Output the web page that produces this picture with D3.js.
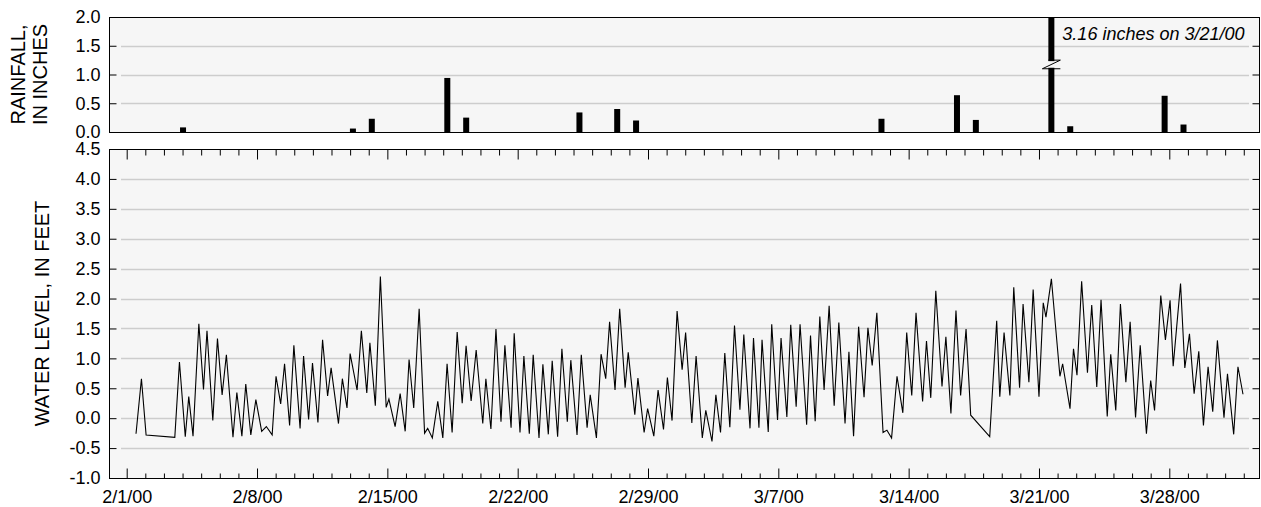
<!DOCTYPE html>
<html>
<head>
<meta charset="utf-8">
<script src="https://cdn.jsdelivr.net/npm/d3@7"></script>
<style>
  html, body { margin: 0; padding: 0; background: #fff; }
  svg { display: block; }
  text { font-family: "Liberation Sans", Arial, Helvetica, sans-serif; fill: #000; }
</style>
</head>
<body>
<svg id="chart" width="1261" height="507"></svg>
<script>
// Daily rainfall totals (inches)
const rainDates = ["2/4", "2/13", "2/14", "2/18", "2/19", "2/25", "2/27", "2/28",
                   "3/12", "3/16", "3/17", "3/21", "3/22", "3/27", "3/28"];
const rainInches = [0.08, 0.06, 0.23, 0.94, 0.25, 0.34, 0.40, 0.20,
                    0.23, 0.64, 0.21, 3.16, 0.10, 0.63, 0.13];

// Water level readings (feet), high/low tide turning points
const levelTimes = [
  "2/1 12:00","2/1 19:00","2/2 01:00","2/3 14:00","2/3 20:00","2/4 03:30","2/4 08:00","2/4 13:30",
  "2/4 21:00","2/5 03:00","2/5 07:30","2/5 15:00","2/5 21:00","2/6 03:00","2/6 08:30","2/6 17:00",
  "2/6 22:00","2/7 04:30","2/7 09:30","2/7 16:00","2/7 22:30","2/8 06:00","2/8 12:00","2/8 19:30",
  "2/9 00:30","2/9 06:30","2/9 11:30","2/9 18:00","2/9 23:30","2/10 07:30","2/10 12:00","2/10 18:30",
  "2/10 23:30","2/11 06:30","2/11 12:30","2/11 19:00","2/11 23:30","2/12 09:00","2/12 14:00","2/12 20:00",
  "2/13 00:00","2/13 09:00","2/13 14:30","2/13 21:30","2/14 01:30","2/14 08:30","2/14 15:00","2/14 22:30",
  "2/15 02:00","2/15 10:00","2/15 16:30","2/15 23:00","2/16 04:00","2/16 10:00","2/16 17:00","2/17 00:00",
  "2/17 04:00","2/17 10:00","2/17 17:00","2/17 23:30","2/18 05:00","2/18 11:30","2/18 18:00","2/19 00:30",
  "2/19 05:30","2/19 12:00","2/19 18:30","2/20 03:00","2/20 07:00","2/20 13:30","2/20 20:00","2/21 02:30",
  "2/21 07:30","2/21 15:30","2/21 19:30","2/22 03:00","2/22 08:00","2/22 15:00","2/22 20:00","2/23 03:30",
  "2/23 08:30","2/23 15:30","2/23 20:30","2/24 03:30","2/24 09:00","2/24 16:00","2/24 20:30","2/25 04:30",
  "2/25 10:00","2/25 17:30","2/25 21:30","2/26 05:30","2/26 11:30","2/26 17:30","2/26 22:30","2/27 05:30",
  "2/27 11:30","2/27 18:30","2/27 22:30","2/28 07:00","2/28 11:00","2/28 19:00","2/28 23:30","2/29 07:30",
  "2/29 13:00","2/29 20:00","3/1 01:00","3/1 07:00","3/1 13:30","3/1 20:00","3/2 00:30","3/2 08:30",
  "3/2 14:00","3/2 22:00","3/3 02:30","3/3 10:30","3/3 15:30","3/3 21:30","3/4 03:00","3/4 09:30",
  "3/4 15:30","3/4 22:30","3/5 03:30","3/5 11:30","3/5 16:00","3/5 23:00","3/6 03:00","3/6 11:00",
  "3/6 15:30","3/6 23:00","3/7 03:30","3/7 11:00","3/7 16:00","3/7 23:00","3/8 04:00","3/8 12:30",
  "3/8 17:30","3/8 23:30","3/9 05:30","3/9 11:00","3/9 17:30","3/10 00:00","3/10 06:00","3/10 14:00",
  "3/10 19:00","3/11 01:00","3/11 07:30","3/11 14:30","3/11 19:30","3/12 01:00","3/12 07:00","3/12 15:00",
  "3/12 20:00","3/13 02:00","3/13 09:00","3/13 16:30","3/13 21:30","3/14 04:00","3/14 09:30","3/14 18:00",
  "3/14 23:00","3/15 04:30","3/15 11:00","3/15 19:00","3/16 00:00","3/16 06:30","3/16 13:00","3/16 19:00",
  "3/17 02:00","3/17 08:00","3/18 08:30","3/18 17:30","3/18 21:30","3/19 03:00","3/19 10:30","3/19 15:30",
  "3/19 23:00","3/20 03:30","3/20 11:00","3/20 16:30","3/21 00:00","3/21 05:30","3/21 09:00","3/21 16:00",
  "3/22 03:00","3/22 06:30","3/22 16:00","3/22 20:30","3/23 01:00","3/23 07:00","3/23 14:30","3/23 20:00",
  "3/24 02:30","3/24 08:00","3/24 16:00","3/24 20:30","3/25 03:00","3/25 09:00","3/25 16:00","3/25 21:30",
  "3/26 04:30","3/26 10:30","3/26 18:30","3/27 00:00","3/27 05:00","3/27 13:00","3/27 19:00","3/28 01:00",
  "3/28 05:00","3/28 14:30","3/28 20:00","3/29 02:00","3/29 08:00","3/29 14:00","3/29 20:00","3/30 02:00",
  "3/30 08:00","3/30 14:00","3/30 22:30","3/31 03:00","3/31 11:00","3/31 16:30","3/31 23:00"
];
const levelFeet = [
  -0.26, 0.66, -0.28, -0.32, 0.94, -0.31, 0.36, -0.30,
  1.58, 0.48, 1.46, -0.04, 1.33, 0.39, 1.06, -0.32,
  0.43, -0.30, 0.57, -0.28, 0.31, -0.22, -0.14, -0.28,
  0.70, 0.24, 0.91, -0.12, 1.22, -0.17, 1.04, -0.02,
  0.92, -0.07, 1.31, 0.37, 0.84, -0.09, 0.66, 0.17,
  1.08, 0.47, 1.46, 0.42, 1.26, 0.21, 2.37, 0.18,
  0.32, -0.14, 0.41, -0.22, 0.98, 0.17, 1.83, -0.25,
  -0.17, -0.33, 0.28, -0.33, 0.91, -0.24, 1.44, 0.25,
  1.21, 0.29, 1.14, -0.09, 0.66, -0.18, 1.49, -0.06,
  1.22, -0.16, 1.42, -0.24, 1.04, -0.26, 1.06, -0.33,
  0.90, -0.27, 0.96, -0.31, 1.16, -0.06, 0.97, -0.28,
  1.06, -0.16, 0.39, -0.33, 1.07, 0.66, 1.61, 0.47,
  1.83, 0.51, 1.10, 0.06, 0.67, -0.24, 0.16, -0.30,
  0.47, -0.19, 0.68, -0.04, 1.79, 0.81, 1.43, -0.08,
  1.04, -0.33, 0.13, -0.39, 0.39, -0.24, 1.09, -0.15,
  1.55, 0.14, 1.40, -0.17, 1.34, -0.16, 1.31, -0.23,
  1.57, -0.03, 1.34, 0.02, 1.56, 0.19, 1.57, -0.11,
  1.38, -0.05, 1.70, 0.47, 1.88, 0.21, 1.60, -0.09,
  1.11, -0.30, 1.53, 0.35, 1.51, 0.88, 1.76, -0.24,
  -0.20, -0.33, 0.70, 0.09, 1.43, 0.38, 1.76, 0.28,
  1.29, 0.34, 2.13, 0.53, 1.36, 0.08, 1.80, 0.38,
  1.49, 0.05, -0.31, 1.63, 0.36, 1.43, 0.38, 2.19,
  0.51, 1.91, 0.60, 2.15, 0.36, 1.93, 1.69, 2.33,
  0.70, 0.91, 0.16, 1.16, 0.72, 2.29, 0.76, 1.89,
  0.52, 1.98, 0.03, 1.07, 0.13, 1.91, 0.60, 1.61,
  0.01, 1.22, -0.26, 0.63, 0.13, 2.05, 1.31, 1.97,
  0.87, 2.25, 0.84, 1.41, 0.41, 1.12, -0.12, 0.86,
  0.11, 1.30, 0.01, 0.74, -0.27, 0.86, 0.40
];

// Axis ticks
const rainTicks = [0, 0.5, 1.0, 1.5, 2.0];
const levelTicks = [-1.0, -0.5, 0, 0.5, 1.0, 1.5, 2.0, 2.5, 3.0, 3.5, 4.0, 4.5];
const dateLabelEvery = 7;

const parseDay = d3.utcParse("%m/%d/%Y");
const parseTime = d3.utcParse("%m/%d/%Y %H:%M");
const toDay = s => parseDay(s + "/2000");
const toTime = s => { const [d, t] = s.split(" "); return parseTime(d + "/2000 " + t); };

const rain = rainDates.map((d, i) => ({ date: toDay(d), value: rainInches[i] }));
const level = levelTimes.map((t, i) => ({ date: toTime(t), value: levelFeet[i] }));

const svg = d3.select("#chart");
const plotL = 109.5, plotR = 1259.5;
const rainTop = 17, rainBot = 132;
const lvlTop = 149, lvlBot = 478;

const xFirst = toDay("2/1"), xLast = toDay("3/28");
const xLevel = d3.scaleUtc().domain([xFirst, xLast]).range([126.7, 1169.3]);
const xRain = d3.scaleUtc().domain([xFirst, xLast]).range([126.4, 1183.5]);
const yRain = d3.scaleLinear().domain([0, 2]).range([rainBot, rainTop]).clamp(true);
const yLevel = d3.scaleLinear().domain([-1, 4.5]).range([lvlBot, lvlTop]);

const FS = 18;

function panel(yTop, yBot) {
  svg.append("rect")
    .attr("x", plotL).attr("y", yTop + 0.5)
    .attr("width", plotR - plotL).attr("height", yBot - yTop)
    .attr("fill", "#f6f6f6");
}
function grid(scale, values) {
  svg.append("g").selectAll("line").data(values).join("line")
    .attr("x1", 121).attr("x2", 1249)
    .attr("y1", d => Math.round(scale(d)) + 0.5)
    .attr("y2", d => Math.round(scale(d)) + 0.5)
    .attr("stroke", "#cdcdcd").attr("stroke-width", 1.6);
}
function yAxes(scale, values) {
  const left = svg.append("g").attr("transform", `translate(${plotL},0)`)
    .call(d3.axisLeft(scale).tickValues(values).tickSize(-7).tickPadding(9)
      .tickFormat(d3.format(".1f")));
  const right = svg.append("g").attr("transform", `translate(${plotR},0)`)
    .call(d3.axisRight(scale).tickValues(values).tickSize(-7).tickFormat(""));
  [left, right].forEach(g => {
    g.select(".domain").remove();
    g.selectAll("line").attr("stroke", "#000");
    g.selectAll("text").attr("font-size", FS).attr("font-family", null)
      .text(function () { return this.textContent.replace("\u2212", "-"); });
  });
}
function frame(yTop, yBot) {
  svg.append("rect")
    .attr("x", plotL).attr("y", yTop + 0.5)
    .attr("width", plotR - plotL).attr("height", yBot - yTop)
    .attr("fill", "none").attr("stroke", "#000").attr("stroke-width", 1);
}

// ---- Rainfall panel ----
panel(rainTop, rainBot);
grid(yRain, rainTicks.slice(1, -1));
yAxes(yRain, rainTicks);

const barW = 6;
svg.append("g").selectAll("rect").data(rain).join("rect")
  .attr("x", d => xRain(d.date) - barW / 2)
  .attr("width", barW)
  .attr("y", d => yRain(d.value))
  .attr("height", d => yRain(0) - yRain(d.value))
  .attr("fill", "#000");

// Break mark on the off-scale bar
const big = rain.find(d => d.value > yRain.domain()[1]);
if (big) {
  const cx = xRain(big.date);
  const b1 = yRain(1.25), b2 = yRain(1.1);
  svg.append("rect").attr("x", cx - barW / 2 - 1).attr("y", b1 + 1)
    .attr("width", barW + 2).attr("height", b2 - b1 - 2).attr("fill", "#f6f6f6");
  svg.append("path")
    .attr("d", `M${cx - 3},${b1}L${cx + 9},${b1}L${cx - 9},${b2}L${cx + 9},${b2}`)
    .attr("fill", "none").attr("stroke", "#000").attr("stroke-width", 1);
  svg.append("text")
    .attr("x", cx + 11).attr("y", 39.5)
    .attr("font-size", FS).attr("font-style", "italic")
    .text(`${big.value.toFixed(2)} inches on ${d3.utcFormat("%-m/%-d/%y")(big.date)}`);
}
frame(rainTop, rainBot);

// ---- Water level panel ----
panel(lvlTop, lvlBot);
grid(yLevel, levelTicks.slice(1, -1));
yAxes(yLevel, levelTicks);

const days = d3.utcDay.range(xFirst, toDay("4/2"));
const majors = days.filter((d, i) => i % dateLabelEvery === 0);
const minors = days.filter((d, i) => i % dateLabelEvery !== 0);
const fmt = d3.utcFormat("%-m/%-d/%y");

function xAxis(axisFn, y, values, size, labels) {
  const g = svg.append("g").attr("transform", `translate(0,${y})`)
    .call(axisFn(xLevel).tickValues(values).tickSize(-size).tickPadding(12)
      .tickFormat(labels ? fmt : ""));
  g.select(".domain").remove();
  g.selectAll("line").attr("stroke", "#000");
  g.selectAll("text").attr("font-size", FS).attr("font-family", null);
}
xAxis(d3.axisBottom, lvlBot + 0.5, minors, 5, false);
xAxis(d3.axisBottom, lvlBot + 0.5, majors, 10, true);
xAxis(d3.axisTop, lvlTop + 0.5, minors, 6, false);
xAxis(d3.axisTop, lvlTop + 0.5, majors, 10, false);

svg.append("path")
  .datum(level)
  .attr("d", d3.line().x(d => xLevel(d.date)).y(d => yLevel(d.value)))
  .attr("fill", "none").attr("stroke", "#000").attr("stroke-width", 1.1)
  .attr("stroke-linejoin", "miter");

frame(lvlTop, lvlBot);

// ---- Axis titles ----
const TS = 20;
svg.append("text")
  .attr("transform", `translate(25,${(rainTop + rainBot) / 2}) rotate(-90)`)
  .attr("text-anchor", "middle").attr("font-size", TS).text("RAINFALL,");
svg.append("text")
  .attr("transform", `translate(46.5,${(rainTop + rainBot) / 2}) rotate(-90)`)
  .attr("text-anchor", "middle").attr("font-size", TS).text("IN INCHES");
svg.append("text")
  .attr("transform", `translate(48.5,${(lvlTop + lvlBot) / 2}) rotate(-90)`)
  .attr("text-anchor", "middle").attr("font-size", TS).text("WATER LEVEL, IN FEET");
</script>
</body>
</html>
